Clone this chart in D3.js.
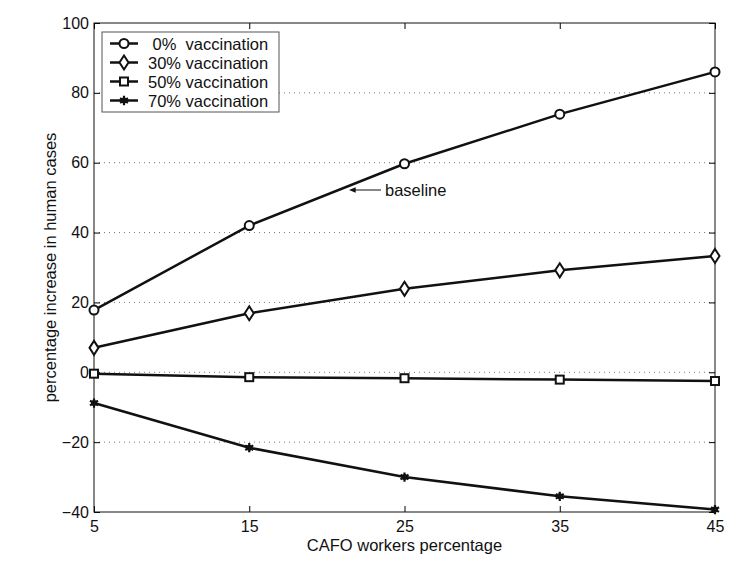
<!DOCTYPE html>
<html>
<head>
<meta charset="utf-8">
<script src="https://cdn.jsdelivr.net/npm/d3@7"></script>
<style>
  body { margin: 0; background: #fff; }
  text { font-family: "Liberation Sans", Arial, sans-serif; fill: #111; }
</style>
</head>
<body>
<div id="chart"></div>
<script>
// data
var workers = [5, 15, 25, 35, 45];
var vacc0  = [17.8, 42.0, 59.7, 73.9, 86.0];
var vacc30 = [7.0, 16.9, 23.9, 29.2, 33.3];
var vacc50 = [-0.4, -1.4, -1.7, -2.1, -2.5];
var vacc70 = [-8.8, -21.6, -30.0, -35.5, -39.3];
var seriesNames = [" 0%  vaccination", "30% vaccination", "50% vaccination", "70% vaccination"];
var yTicks = [-40, -20, 0, 20, 40, 60, 80, 100];
var gridLines = [-20, 0, 20, 40, 60, 80];

var WIDTH = 754, HEIGHT = 572,
	MARGINS = {top: 23, bottom: 60, left: 94, right: 39};

var xScale = d3.scaleLinear().domain([5, 45]).range([MARGINS.left, WIDTH - MARGINS.right]);
var yScale = d3.scaleLinear().domain([-40, 100]).range([HEIGHT - MARGINS.bottom, MARGINS.top]);

var svg = d3.select("#chart").append("svg")
	.attr("width", WIDTH)
	.attr("height", HEIGHT);

// dotted horizontal grid
svg.append("g").selectAll("line")
	.data(gridLines)
	.enter().append("line")
	.attr("x1", xScale(5)).attr("x2", xScale(45))
	.attr("y1", function(d) {return yScale(d);})
	.attr("y2", function(d) {return yScale(d);})
	.attr("stroke", "#777")
	.attr("stroke-width", 1)
	.attr("stroke-dasharray", "1,4");

// axes with inward ticks
svg.append("g")
	.attr("transform", "translate(0," + yScale(-40) + ")")
	.call(d3.axisBottom(xScale).tickValues(workers).tickSizeInner(-6).tickSizeOuter(0).tickPadding(9))
	.call(function(g) {
		g.select(".domain").remove();
		g.selectAll("text").style("font-size", "16px").style("font-family", "Liberation Sans, Arial, sans-serif");
	});
svg.append("g")
	.attr("transform", "translate(" + xScale(5) + ",0)")
	.call(d3.axisLeft(yScale).tickValues(yTicks).tickSizeInner(-6).tickSizeOuter(0).tickPadding(5))
	.call(function(g) {
		g.select(".domain").remove();
		g.selectAll("text").style("font-size", "16px").style("font-family", "Liberation Sans, Arial, sans-serif");
	});
svg.append("g")
	.attr("transform", "translate(0," + yScale(100) + ")")
	.call(d3.axisTop(xScale).tickValues(workers).tickSizeInner(-6).tickSizeOuter(0).tickFormat(""))
	.call(function(g) { g.select(".domain").remove(); });
svg.append("g")
	.attr("transform", "translate(" + xScale(45) + ",0)")
	.call(d3.axisRight(yScale).tickValues(yTicks).tickSizeInner(-6).tickSizeOuter(0).tickFormat(""))
	.call(function(g) { g.select(".domain").remove(); });

// frame
svg.append("rect")
	.attr("x", xScale(5)).attr("y", yScale(100))
	.attr("width", xScale(45) - xScale(5))
	.attr("height", yScale(-40) - yScale(100))
	.attr("fill", "none")
	.attr("stroke", "#111")
	.attr("stroke-width", 1);

// axis titles
svg.append("text")
	.attr("x", (xScale(5) + xScale(45)) / 2)
	.attr("y", 551)
	.style("text-anchor", "middle")
	.style("font-size", "16.5px")
	.text("CAFO workers percentage");
svg.append("text")
	.attr("transform", "translate(56," + (yScale(100) + yScale(-40)) / 2 + ") rotate(-90)")
	.style("text-anchor", "middle")
	.style("font-size", "16.5px")
	.text("percentage increase in human cases");

// markers
function drawMarker(g, kind, cx, cy) {
	if (kind == 0) {
		g.append("circle").attr("cx", cx).attr("cy", cy).attr("r", 4.5)
			.attr("fill", "#fff").attr("stroke", "#111").attr("stroke-width", 2);
	} else if (kind == 1) {
		g.append("path")
			.attr("d", "M" + cx + "," + (cy - 7) + "L" + (cx + 4.5) + "," + cy + "L" + cx + "," + (cy + 7) + "L" + (cx - 4.5) + "," + cy + "Z")
			.attr("fill", "#fff").attr("stroke", "#111").attr("stroke-width", 2);
	} else if (kind == 2) {
		g.append("rect").attr("x", cx - 4).attr("y", cy - 4).attr("width", 8).attr("height", 8)
			.attr("fill", "#fff").attr("stroke", "#111").attr("stroke-width", 2);
	} else {
		g.append("path").attr("transform", "translate(" + cx + "," + cy + ")")
			.attr("d", d3.symbol().type(d3.symbolAsterisk).size(60)())
			.attr("fill", "none").attr("stroke", "#111").attr("stroke-width", 2.2);
		g.append("circle").attr("cx", cx).attr("cy", cy).attr("r", 3).attr("fill", "#111");
	}
}

var allSeries = [vacc0, vacc30, vacc50, vacc70];

var lineGen = d3.line()
	.x(function(d, i) {return xScale(workers[i]);})
	.y(function(d) {return yScale(d);});

allSeries.forEach(function(vals, k) {
	svg.append("path")
		.datum(vals)
		.attr("d", lineGen)
		.attr("fill", "none")
		.attr("stroke", "#111")
		.attr("stroke-width", 2.5);
	var mg = svg.append("g");
	vals.forEach(function(v, i) {
		drawMarker(mg, k, xScale(workers[i]), yScale(v));
	});
});

// baseline annotation
var annX = 381, annY = 190;
svg.append("defs").append("marker")
	.attr("id", "arrow")
	.attr("viewBox", "0 0 10 10")
	.attr("refX", 1).attr("refY", 5)
	.attr("markerWidth", 7).attr("markerHeight", 7)
	.attr("orient", "auto-start-reverse")
	.append("path").attr("d", "M0,1L10,5L0,9Z").attr("fill", "#111");
svg.append("line")
	.attr("x1", annX).attr("y1", annY)
	.attr("x2", annX - 26).attr("y2", annY)
	.attr("stroke", "#111").attr("stroke-width", 1)
	.attr("marker-end", "url(#arrow)");
svg.append("text")
	.attr("x", annX + 4).attr("y", annY + 6)
	.style("font-size", "16.5px")
	.text("baseline");

// legend
var legend = svg.append("g");
legend.append("rect")
	.attr("x", 102).attr("y", 32)
	.attr("width", 177).attr("height", 80)
	.attr("fill", "#fff")
	.attr("stroke", "#555")
	.attr("stroke-width", 1);
seriesNames.forEach(function(name, k) {
	var ly = 43.5 + k * 19;
	legend.append("line")
		.attr("x1", 110).attr("x2", 138)
		.attr("y1", ly).attr("y2", ly)
		.attr("stroke", "#111").attr("stroke-width", 2.5);
	drawMarker(legend, k, 124, ly);
	legend.append("text")
		.attr("x", 148).attr("y", ly + 6)
		.style("font-size", "16.5px")
		.style("white-space", "pre")
		.text(name);
});
</script>
</body>
</html>
